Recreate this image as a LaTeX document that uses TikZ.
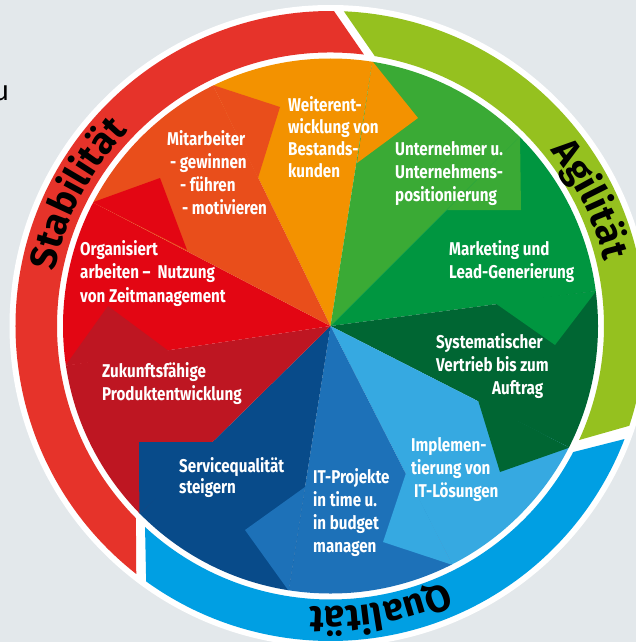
\documentclass[tikz,border=0pt]{standalone}
\usepackage{fontspec}
\setmainfont{Fira Sans}
\newfontfamily\segfont{Fira Sans}[FakeStretch=0.82]
\newfontfamily\ringfont{Fira Sans}
\usetikzlibrary{decorations.text}
\definecolor{bg}{HTML}{E3E8EB}
\definecolor{ringred}{HTML}{E6332A}
\definecolor{ringgreen}{HTML}{95C11F}
\definecolor{ringblue}{HTML}{009FE3}
\definecolor{cOrange}{HTML}{F39200}
\definecolor{cLgreen}{HTML}{3AAA35}
\definecolor{cGreen}{HTML}{009640}
\definecolor{cDgreen}{HTML}{006633}
\definecolor{cLblue}{HTML}{36A9E1}
\definecolor{cMblue}{HTML}{1D71B8}
\definecolor{cDblue}{HTML}{084B8A}
\definecolor{cDred}{HTML}{BE1622}
\definecolor{cRed}{HTML}{E30613}
\definecolor{cOred}{HTML}{E94E1B}
\begin{document}
\begin{tikzpicture}[x=1pt,y=1pt,
  seg/.style={text=white, font=\segfont\bfseries\fontsize{18.5}{23}\selectfont,
    align=left, anchor=base west, inner sep=0pt},
  ringtext/.style={decorate, decoration={text along path, text align=center,
    text={|\ringfont\bfseries\fontsize{37.5}{37.5}\selectfont|#1}}}
]
\useasboundingbox (0,0) rectangle (636,-642);
\fill[bg] (0,0) rectangle (636,-642);
\coordinate (C) at (330.5,-326);
\node[font=\fontsize{28}{28}\selectfont, text=black, anchor=base east, inner sep=0pt] (u) at (9.5,-100) {u};

% outer ring
\begin{scope}[shift={(C)}]
\fill[white] (0,0) circle (321);
\fill[ringred] (231.93:315) arc[start angle=231.93, end angle=89.37, radius=315]
  -- (82.98:273.5) arc[start angle=82.98, end angle=224.63, radius=273.5] -- cycle;
\fill[ringgreen] (87.57:315) arc[start angle=87.57, end angle=-18.47, radius=315]
  -- (-24.64:273.5) arc[start angle=-24.64, end angle=80.67, radius=273.5] -- cycle;
\fill[ringblue] (-21.03:315) arc[start angle=-21.03, end angle=-125.82, radius=315]
  -- (-132.7:273.5) arc[start angle=-132.7, end angle=-27.45, radius=273.5] -- cycle;
\path[ringtext=Stabilität] (200:281) arc[start angle=200, end angle=105, radius=281];
\path[ringtext=Agilität] (70:281) arc[start angle=70, end angle=-18, radius=281];
\path[ringtext=Qualität] (-35:281) arc[start angle=-35, end angle=-125, radius=281];
\end{scope}

% inner pinwheel
\begin{scope}
\clip (C) circle (267.5);
\fill[cOrange] (C) -- ++(81:300) arc[start angle=81, end angle=116, radius=300] -- cycle;
\fill[cLgreen] (C) -- ++(45:300) arc[start angle=45, end angle=81, radius=300] -- cycle;
\fill[cGreen] (C) -- ++(7.5:300) arc[start angle=7.5, end angle=45, radius=300] -- cycle;
\fill[cDgreen] (C) -- ++(-27:300) arc[start angle=-27, end angle=7.5, radius=300] -- cycle;
\fill[cLblue] (C) -- ++(-63:300) arc[start angle=-63, end angle=-27, radius=300] -- cycle;
\fill[cMblue] (C) -- ++(-99:300) arc[start angle=-99, end angle=-63, radius=300] -- cycle;
\fill[cDblue] (C) -- ++(-135.5:300) arc[start angle=-135.5, end angle=-99, radius=300] -- cycle;
\fill[cDred] (C) -- ++(-171.5:300) arc[start angle=-171.5, end angle=-135.5, radius=300] -- cycle;
\fill[cRed] (C) -- ++(152.5:300) arc[start angle=152.5, end angle=188.5, radius=300] -- cycle;
\fill[cOred] (C) -- ++(116:300) arc[start angle=116, end angle=152.5, radius=300] -- cycle;
% teeth
\fill[cOrange] (C) ++(81:268) -- (418,-118) -- (357,-163) -- cycle;
\fill[cLgreen] (C) ++(45:268) -- (521,-210) -- (447,-210) -- cycle;
\fill[cGreen] (C) ++(7.5:268) -- (555,-345) -- (495,-303) -- cycle;
\fill[cDgreen] (C) ++(-27:268) -- (500,-472) -- (478,-400) -- cycle;
\fill[cLblue] (C) ++(-63:268) -- (383,-542) -- (406,-473) -- cycle;
\fill[cMblue] (C) ++(-99:268) -- (245,-530) -- (305,-487) -- cycle;
\fill[cDblue] (C) ++(-135.5:268) -- (139,-442) -- (217,-442) -- cycle;
\fill[cDred] (C) ++(-171.5:268) -- (108,-306) -- (170,-352) -- cycle;
\fill[cRed] (C) ++(152.5:268) -- (160,-178) -- (187,-250) -- cycle;
\fill[cOred] (C) ++(116:268) -- (280,-107) -- (258,-178) -- cycle;
\end{scope}

% labels (anchor at baseline of last line)
\node[seg, font=\segfont\bfseries\fontsize{18.5}{22}\selectfont] (t1) at (288,-177.5) {Weiterent-\\wicklung von\\Bestands-\\kunden};
\node[seg] (t2) at (395,-201) {Unternehmer u.\\Unternehmens-\\positionierung};
\node[seg] (t3) at (449,-278) {Marketing und\\Lead-Generierung};
\node[seg] (t4) at (436,-394) {Systematischer\\Vertrieb bis zum\\\hspace*{56pt}Auftrag};
\node[seg] (t5) at (411,-497) {Implemen-\\tierung von\\\hspace*{3pt}IT-Lösungen};
\node[seg] (t6) at (313,-552) {IT-Projekte\\in time u.\\in budget\\managen};
\node[seg, font=\segfont\bfseries\fontsize{18.5}{21}\selectfont] (t7) at (179,-493) {Servicequalität\\steigern};
\node[seg] (t8) at (102,-400) {Zukunftsfähige\\Produktentwicklung};
\node[seg, font=\segfont\bfseries\fontsize{18.5}{23.5}\selectfont] (t9) at (80,-302) {Organisiert\\arbeiten –\ \ Nutzung\\von Zeitmanagement};
\node[seg] (t10) at (167,-214) {Mitarbeiter\\\hspace*{3pt}- gewinnen\\\hspace*{13pt}- führen\\\hspace*{15pt}- motivieren};
\end{tikzpicture}
\end{document}
